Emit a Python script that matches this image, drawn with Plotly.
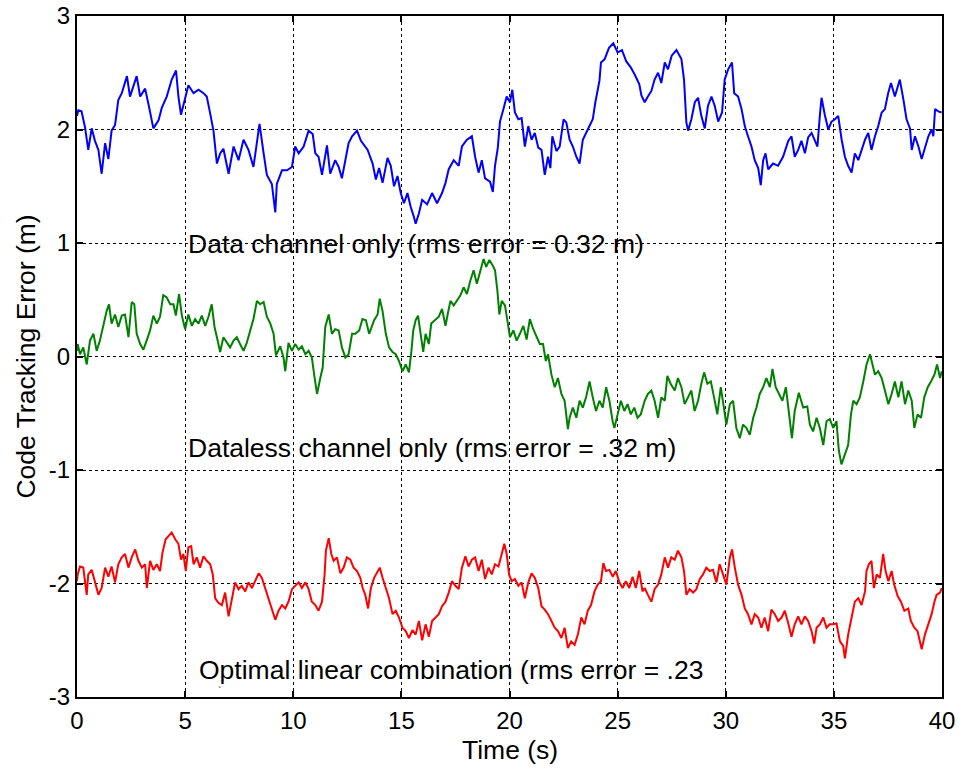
import plotly.graph_objects as go

# ---------------- data ----------------
blue_t = [0.0, 0.06, 0.21, 0.37, 0.52, 0.68, 0.83, 0.99, 1.14, 1.30, 1.45, 1.60, 1.76, 1.91, 2.07, 2.31, 2.45, 2.61, 2.76, 2.92,
          3.15, 3.33, 3.53, 3.77, 3.92, 4.15, 4.38, 4.58, 4.69, 4.81, 5.00, 5.15, 5.39, 5.62, 5.85, 6.00, 6.16, 6.31, 6.47, 6.62,
          6.77, 7.01, 7.24, 7.47, 7.70, 7.93, 8.16, 8.32, 8.44, 8.63, 8.78, 9.01, 9.17, 9.24, 9.48, 9.71, 9.94, 10.09, 10.25, 10.48,
          10.71, 10.90, 11.02, 11.17, 11.33, 11.56, 11.71, 11.94, 12.10, 12.25, 12.41, 12.56, 12.72, 12.95, 13.13, 13.44, 13.67, 13.82, 13.97, 14.13,
          14.36, 14.51, 14.66, 14.82, 14.97, 15.12, 15.28, 15.43, 15.58, 15.66, 15.81, 15.96, 16.19, 16.42, 16.65, 16.88, 17.04, 17.19, 17.42, 17.65,
          17.80, 18.03, 18.26, 18.41, 18.57, 18.72, 18.87, 19.10, 19.23, 19.33, 19.46, 19.56, 19.72, 19.87, 20.02, 20.13, 20.25, 20.41, 20.56, 20.71,
          20.87, 21.02, 21.17, 21.33, 21.48, 21.63, 21.78, 21.89, 21.98, 22.17, 22.32, 22.50, 22.63, 22.78, 22.93, 23.09, 23.24, 23.39, 23.62, 23.85,
          23.97, 24.08, 24.16, 24.23, 24.40, 24.60, 24.80, 25.00, 25.20, 25.40, 25.60, 25.80, 26.00, 26.10, 26.25, 26.40, 26.56, 26.71, 26.87, 27.02,
          27.18, 27.33, 27.50, 27.72, 27.95, 28.07, 28.18, 28.26, 28.41, 28.57, 28.72, 28.87, 29.03, 29.18, 29.34, 29.49, 29.65, 29.83, 29.95, 30.11,
          30.29, 30.39, 30.57, 30.73, 30.88, 31.03, 31.19, 31.34, 31.50, 31.62, 31.73, 31.84, 31.96, 32.19, 32.42, 32.65, 32.89, 33.04, 33.19, 33.35,
          33.50, 33.66, 33.81, 33.97, 34.12, 34.24, 34.35, 34.43, 34.58, 34.74, 34.89, 35.05, 35.20, 35.36, 35.51, 35.66, 35.82, 35.97, 36.13, 36.28,
          36.44, 36.59, 36.74, 36.90, 37.05, 37.21, 37.36, 37.51, 37.64, 37.82, 37.98, 38.05, 38.21, 38.36, 38.52, 38.60, 38.75, 38.91, 39.06, 39.22,
          39.37, 39.52, 39.60, 39.68, 39.83, 39.98]
blue_y = [2.12, 2.17, 2.16, 2.02, 1.82, 2.01, 1.90, 1.82, 1.61, 1.88, 1.74, 1.99, 2.04, 2.26, 2.32, 2.47, 2.29, 2.38, 2.47, 2.29,
          2.36, 2.20, 2.01, 2.08, 2.19, 2.29, 2.44, 2.52, 2.29, 2.13, 2.27, 2.39, 2.32, 2.35, 2.32, 2.29, 2.14, 1.99, 1.70, 1.79,
          1.83, 1.61, 1.85, 1.73, 1.91, 1.82, 1.67, 1.88, 2.05, 1.79, 1.60, 1.52, 1.27, 1.52, 1.64, 1.64, 1.67, 1.85, 1.79, 1.85,
          1.99, 1.96, 1.79, 1.76, 1.60, 1.86, 1.61, 1.73, 1.67, 1.57, 1.73, 1.88, 1.94, 1.99, 1.90, 1.82, 1.70, 1.56, 1.66, 1.53,
          1.75, 1.68, 1.50, 1.59, 1.44, 1.35, 1.44, 1.32, 1.23, 1.17, 1.26, 1.38, 1.34, 1.44, 1.35, 1.44, 1.53, 1.65, 1.73, 1.68,
          1.85, 1.91, 1.94, 1.76, 1.62, 1.73, 1.57, 1.54, 1.45, 1.68, 1.84, 2.07, 2.18, 2.29, 2.24, 2.35, 2.15, 2.09, 2.10, 1.85,
          2.03, 1.91, 1.97, 1.84, 1.82, 1.60, 1.76, 1.66, 1.94, 1.81, 1.85, 2.09, 2.06, 1.91, 1.85, 1.76, 1.70, 1.91, 2.00, 2.09,
          2.24, 2.35, 2.43, 2.59, 2.62, 2.72, 2.76, 2.68, 2.70, 2.60, 2.55, 2.48, 2.40, 2.30, 2.24, 2.29, 2.34, 2.44, 2.50, 2.41,
          2.59, 2.53, 2.65, 2.70, 2.62, 2.44, 2.06, 1.99, 2.09, 2.24, 2.28, 2.12, 2.01, 2.21, 2.29, 2.21, 2.07, 2.15, 2.44, 2.53,
          2.59, 2.32, 2.29, 2.18, 2.03, 1.94, 1.85, 1.73, 1.66, 1.51, 1.73, 1.79, 1.65, 1.70, 1.68, 1.76, 1.90, 1.94, 1.76, 1.82,
          1.90, 1.79, 1.93, 1.97, 1.91, 1.85, 2.12, 2.28, 2.13, 2.00, 2.07, 2.09, 2.12, 1.91, 1.76, 1.68, 1.62, 1.79, 1.73, 1.82,
          1.91, 1.97, 1.82, 1.94, 2.03, 2.15, 2.18, 2.32, 2.41, 2.29, 2.41, 2.44, 2.27, 2.09, 2.01, 1.82, 1.94, 1.85, 1.74, 1.85,
          1.94, 2.00, 1.94, 2.18, 2.16, 2.15]

green_t = [0.0, 0.03, 0.14, 0.29, 0.45, 0.60, 0.76, 0.91, 1.06, 1.22, 1.37, 1.48, 1.60, 1.76, 1.91, 2.07, 2.22, 2.38, 2.53, 2.65,
           2.76, 2.92, 3.07, 3.22, 3.38, 3.53, 3.69, 3.84, 3.99, 4.15, 4.31, 4.46, 4.57, 4.72, 4.85, 5.00, 5.15, 5.31, 5.46, 5.62,
           5.77, 5.93, 6.08, 6.23, 6.36, 6.47, 6.62, 6.77, 6.93, 7.08, 7.24, 7.39, 7.54, 7.70, 7.85, 8.01, 8.16, 8.32, 8.47, 8.63,
           8.78, 8.94, 9.09, 9.20, 9.40, 9.55, 9.63, 9.78, 9.94, 10.09, 10.25, 10.40, 10.56, 10.71, 10.86, 10.99, 11.10, 11.25, 11.36, 11.48,
           11.64, 11.79, 11.94, 12.10, 12.25, 12.41, 12.56, 12.72, 12.87, 13.05, 13.20, 13.36, 13.51, 13.74, 13.90, 14.00, 14.13, 14.28, 14.43, 14.59,
           14.74, 14.89, 15.05, 15.20, 15.35, 15.46, 15.55, 15.66, 15.77, 15.89, 16.01, 16.12, 16.27, 16.38, 16.58, 16.73, 16.88, 17.04, 17.14, 17.27,
           17.42, 17.57, 17.73, 17.88, 18.03, 18.19, 18.34, 18.49, 18.65, 18.80, 18.92, 19.07, 19.23, 19.33, 19.44, 19.53, 19.64, 19.79, 19.90, 20.02,
           20.18, 20.33, 20.48, 20.64, 20.79, 20.94, 21.10, 21.25, 21.40, 21.55, 21.68, 21.78, 21.94, 22.09, 22.24, 22.40, 22.55, 22.70, 22.78, 22.93,
           23.09, 23.24, 23.39, 23.54, 23.70, 23.85, 24.00, 24.16, 24.31, 24.47, 24.62, 24.77, 24.85, 25.00, 25.15, 25.31, 25.46, 25.61, 25.77, 25.92,
           26.07, 26.25, 26.40, 26.56, 26.71, 26.87, 27.02, 27.18, 27.30, 27.45, 27.64, 27.79, 27.95, 28.10, 28.26, 28.41, 28.56, 28.72, 28.87, 29.00,
           29.15, 29.31, 29.46, 29.61, 29.77, 29.92, 30.03, 30.19, 30.34, 30.49, 30.65, 30.80, 30.96, 31.11, 31.27, 31.42, 31.57, 31.73, 31.88, 32.04,
           32.16, 32.31, 32.47, 32.62, 32.78, 32.93, 33.06, 33.19, 33.38, 33.58, 33.77, 33.89, 34.04, 34.20, 34.35, 34.51, 34.66, 34.81, 34.97, 35.12,
           35.23, 35.35, 35.51, 35.66, 35.79, 35.90, 36.05, 36.20, 36.36, 36.51, 36.67, 36.74, 36.90, 37.05, 37.21, 37.36, 37.52, 37.67, 37.82, 37.98,
           38.13, 38.29, 38.44, 38.60, 38.72, 38.87, 39.03, 39.18, 39.34, 39.49, 39.65, 39.77, 39.91, 39.99]
green_y = [0.05, 0.11, 0.02, 0.08, -0.07, 0.14, 0.20, 0.05, 0.14, 0.27, 0.40, 0.46, 0.29, 0.37, 0.26, 0.36, 0.37, 0.17, 0.48, 0.46,
           0.20, 0.11, 0.06, 0.14, 0.23, 0.36, 0.29, 0.35, 0.54, 0.52, 0.46, 0.46, 0.36, 0.55, 0.36, 0.24, 0.37, 0.27, 0.33, 0.29,
           0.36, 0.27, 0.35, 0.46, 0.26, 0.17, 0.04, 0.17, 0.12, 0.08, 0.14, 0.17, 0.11, 0.05, 0.12, 0.24, 0.33, 0.49, 0.46, 0.48,
           0.35, 0.29, 0.20, 0.01, 0.09, -0.01, -0.13, 0.12, 0.05, 0.11, 0.06, 0.09, 0.02, 0.05, -0.01, -0.19, -0.33, -0.19, -0.10, 0.26,
           0.37, 0.20, 0.24, 0.23, 0.08, -0.01, 0.02, 0.20, 0.20, 0.23, 0.33, 0.32, 0.20, 0.32, 0.37, 0.51, 0.40, 0.20, 0.08, 0.04,
           0.02, -0.04, -0.13, -0.07, -0.14, 0.04, 0.23, 0.32, 0.36, 0.20, 0.04, 0.20, 0.11, 0.29, 0.32, 0.35, 0.42, 0.27, 0.37, 0.49,
           0.45, 0.49, 0.54, 0.61, 0.55, 0.67, 0.76, 0.64, 0.76, 0.86, 0.79, 0.85, 0.80, 0.76, 0.58, 0.37, 0.49, 0.45, 0.32, 0.17,
           0.23, 0.14, 0.20, 0.27, 0.15, 0.33, 0.24, 0.18, 0.11, 0.11, -0.04, 0.02, -0.16, -0.27, -0.19, -0.33, -0.39, -0.64, -0.54, -0.45,
           -0.54, -0.39, -0.45, -0.36, -0.22, -0.36, -0.48, -0.39, -0.45, -0.27, -0.39, -0.57, -0.63, -0.51, -0.39, -0.48, -0.42, -0.51, -0.45, -0.54,
           -0.51, -0.39, -0.33, -0.30, -0.39, -0.54, -0.36, -0.39, -0.17, -0.24, -0.30, -0.19, -0.27, -0.42, -0.36, -0.30, -0.48, -0.39, -0.24, -0.14,
           -0.24, -0.22, -0.36, -0.51, -0.27, -0.45, -0.60, -0.42, -0.39, -0.63, -0.72, -0.60, -0.63, -0.69, -0.54, -0.45, -0.33, -0.27, -0.19, -0.27,
           -0.11, -0.27, -0.33, -0.39, -0.27, -0.51, -0.72, -0.48, -0.32, -0.45, -0.44, -0.60, -0.66, -0.54, -0.63, -0.78, -0.57, -0.55, -0.63, -0.57,
           -0.83, -0.95, -0.86, -0.78, -0.51, -0.39, -0.42, -0.36, -0.22, -0.07, 0.02, -0.04, -0.16, -0.13, -0.19, -0.30, -0.42, -0.33, -0.22, -0.36,
           -0.22, -0.42, -0.30, -0.39, -0.63, -0.51, -0.54, -0.36, -0.27, -0.22, -0.16, -0.07, -0.19, -0.13]

red_t = [0.0, 0.03, 0.14, 0.29, 0.45, 0.52, 0.68, 0.83, 0.99, 1.14, 1.30, 1.45, 1.60, 1.76, 1.91, 2.07, 2.22, 2.38, 2.53, 2.69,
         2.84, 3.00, 3.15, 3.23, 3.38, 3.53, 3.69, 3.84, 3.95, 4.10, 4.26, 4.38, 4.54, 4.69, 4.81, 4.92, 5.03, 5.15, 5.28, 5.39,
         5.54, 5.69, 5.85, 6.00, 6.16, 6.28, 6.39, 6.54, 6.70, 6.85, 7.01, 7.16, 7.31, 7.47, 7.62, 7.78, 7.93, 8.09, 8.24, 8.40,
         8.55, 8.70, 8.86, 9.01, 9.17, 9.32, 9.48, 9.63, 9.78, 9.94, 10.09, 10.25, 10.40, 10.56, 10.71, 10.86, 11.02, 11.17, 11.33, 11.45,
         11.51, 11.64, 11.76, 11.87, 12.02, 12.18, 12.33, 12.48, 12.64, 12.79, 12.95, 13.10, 13.21, 13.33, 13.46, 13.59, 13.74, 13.90, 14.00, 14.13,
         14.28, 14.43, 14.59, 14.74, 14.89, 15.05, 15.20, 15.35, 15.51, 15.66, 15.81, 15.96, 16.12, 16.27, 16.42, 16.58, 16.73, 16.88, 17.04, 17.19,
         17.34, 17.50, 17.65, 17.80, 17.96, 18.11, 18.26, 18.41, 18.57, 18.72, 18.87, 19.03, 19.18, 19.33, 19.49, 19.64, 19.76, 19.87, 19.98, 20.10,
         20.25, 20.41, 20.56, 20.71, 20.87, 21.02, 21.17, 21.33, 21.48, 21.63, 21.78, 21.94, 22.09, 22.24, 22.40, 22.55, 22.70, 22.85, 23.01, 23.16,
         23.32, 23.47, 23.62, 23.77, 23.93, 24.08, 24.23, 24.34, 24.46, 24.62, 24.77, 24.92, 25.08, 25.23, 25.38, 25.54, 25.69, 25.84, 26.00, 26.15,
         26.25, 26.40, 26.56, 26.71, 26.87, 27.02, 27.18, 27.33, 27.48, 27.64, 27.79, 27.95, 28.07, 28.18, 28.33, 28.49, 28.64, 28.80, 28.95, 29.10,
         29.26, 29.41, 29.57, 29.72, 29.88, 30.03, 30.19, 30.29, 30.42, 30.57, 30.73, 30.88, 31.03, 31.19, 31.34, 31.50, 31.65, 31.80, 31.96, 32.11,
         32.27, 32.42, 32.58, 32.73, 32.89, 33.04, 33.19, 33.35, 33.50, 33.66, 33.81, 33.97, 34.09, 34.20, 34.35, 34.51, 34.66, 34.81, 34.97, 35.12,
         35.28, 35.43, 35.51, 35.66, 35.82, 35.97, 36.13, 36.28, 36.44, 36.51, 36.62, 36.74, 36.85, 36.98, 37.13, 37.28, 37.39, 37.52, 37.67, 37.79,
         37.95, 38.10, 38.26, 38.44, 38.56, 38.72, 38.87, 39.06, 39.21, 39.37, 39.52, 39.65, 39.75, 39.91, 39.99]
red_y = [-1.98, -1.92, -1.85, -1.86, -2.10, -1.92, -1.88, -1.98, -2.10, -2.04, -1.86, -1.94, -1.85, -1.99, -1.83, -1.77, -1.74, -1.86, -1.77, -1.70,
         -1.80, -1.86, -1.83, -2.04, -1.80, -1.88, -1.83, -1.89, -1.73, -1.61, -1.58, -1.55, -1.61, -1.65, -1.79, -1.74, -1.89, -1.68, -1.67, -1.83,
         -1.77, -1.86, -1.76, -1.80, -1.83, -1.92, -2.13, -2.17, -2.19, -2.08, -2.29, -2.13, -1.99, -2.05, -2.02, -2.07, -1.99, -2.04, -1.98, -1.91,
         -1.95, -2.04, -2.14, -2.22, -2.32, -2.24, -2.19, -2.22, -2.16, -2.05, -2.02, -1.99, -2.04, -1.99, -2.05, -2.16, -2.19, -2.24, -2.16, -1.92,
         -1.71, -1.60, -1.74, -1.80, -1.77, -1.91, -1.86, -1.77, -1.79, -1.86, -1.89, -1.95, -2.04, -2.10, -2.22, -2.04, -1.95, -1.89, -1.86, -1.95,
         -2.04, -2.13, -2.27, -2.24, -2.30, -2.39, -2.42, -2.48, -2.41, -2.45, -2.33, -2.50, -2.36, -2.47, -2.33, -2.30, -2.27, -2.20, -2.16, -2.08,
         -1.98, -2.02, -2.05, -1.86, -1.76, -1.85, -1.79, -1.77, -1.89, -1.79, -1.96, -1.86, -1.92, -1.83, -1.85, -1.74, -1.65, -1.74, -1.92, -1.98,
         -1.96, -2.02, -1.99, -2.13, -1.99, -1.91, -1.95, -2.04, -2.20, -2.23, -2.27, -2.33, -2.39, -2.42, -2.48, -2.39, -2.57, -2.51, -2.54, -2.45,
         -2.30, -2.36, -2.24, -2.19, -2.07, -2.01, -1.98, -1.82, -1.89, -1.88, -1.94, -1.89, -1.99, -2.04, -1.98, -2.04, -1.94, -2.04, -1.89, -2.07,
         -2.04, -2.10, -2.16, -2.05, -2.01, -1.92, -1.77, -1.86, -1.77, -1.79, -1.71, -1.77, -1.89, -2.10, -2.05, -2.08, -2.05, -1.96, -1.92, -1.86,
         -1.89, -1.88, -1.99, -1.83, -1.92, -2.01, -1.77, -1.70, -1.86, -2.01, -2.10, -2.22, -2.27, -2.36, -2.27, -2.30, -2.39, -2.30, -2.42, -2.23,
         -2.27, -2.33, -2.30, -2.24, -2.35, -2.47, -2.36, -2.29, -2.36, -2.29, -2.33, -2.42, -2.53, -2.39, -2.36, -2.30, -2.39, -2.36, -2.36, -2.35,
         -2.51, -2.55, -2.66, -2.45, -2.30, -2.16, -2.13, -2.19, -2.07, -1.89, -1.83, -1.80, -2.04, -1.92, -1.95, -1.74, -1.89, -1.98, -1.89, -2.01,
         -2.11, -2.16, -2.24, -2.22, -2.33, -2.39, -2.42, -2.58, -2.45, -2.36, -2.27, -2.16, -2.10, -2.08, -2.04]

x_ticks = [0, 5, 10, 15, 20, 25, 30, 35, 40]
x_tick_labels = ["0", "5", "10", "15", "20", "25", "30", "35", "40"]
y_ticks = [-3, -2, -1, 0, 1, 2, 3]
y_tick_labels = ["-3", "-2", "-1", "0", "1", "2", "3"]

label_data = "Data channel only (rms error = 0.32 m)"
label_dataless = "Dataless channel only (rms error = .32 m)"
label_optimal = "Optimal linear combination (rms error = .23"
x_title = "Time (s)"
y_title = "Code Tracking Error (m)"

# ---------------- figure ----------------
FONT = "Arial, Liberation Sans, Helvetica, sans-serif"

fig = go.Figure()
fig.add_trace(go.Scatter(x=blue_t, y=blue_y, mode="lines",
                         line=dict(color="#0000ff", width=2), showlegend=False))
fig.add_trace(go.Scatter(x=green_t, y=green_y, mode="lines",
                         line=dict(color="#008000", width=2), showlegend=False))
fig.add_trace(go.Scatter(x=red_t, y=red_y, mode="lines",
                         line=dict(color="#ff0000", width=2), showlegend=False))

axis_common = dict(
    showgrid=True, gridcolor="black", griddash="dot", gridwidth=1,
    showline=True, linecolor="black", linewidth=2, mirror="ticks",
    ticks="inside", ticklen=6, tickcolor="black", tickwidth=1.5,
    zeroline=False, automargin=False,
    tickfont=dict(family=FONT, size=24, color="black"),
)

fig.update_xaxes(range=[0, 40], tickvals=x_ticks, ticktext=x_tick_labels,
                 ticklabelstandoff=1, **axis_common)
fig.update_yaxes(range=[-3, 3], tickvals=y_ticks, ticktext=y_tick_labels,
                 ticklabelstandoff=0, **axis_common)

ann_font = dict(family=FONT, size=26.5, color="black")
annotations = [
    dict(x=5.05, y=0.99, xref="x", yref="y", text=label_data, showarrow=False,
         xanchor="left", yanchor="middle", font=ann_font),
    dict(x=5.05, y=-0.81, xref="x", yref="y", text=label_dataless, showarrow=False,
         xanchor="left", yanchor="middle", font=ann_font),
    dict(x=5.55, y=-2.76, xref="x", yref="y", text=label_optimal, showarrow=False,
         xanchor="left", yanchor="middle", font=ann_font),
    dict(x=6.6, y=-2.95, xref="x", yref="y", text="`", showarrow=False,
         xanchor="center", yanchor="middle", font=dict(family=FONT, size=10, color="black")),
    dict(x=0.5, y=-0.078, xref="paper", yref="paper", text=x_title, showarrow=False,
         xanchor="center", yanchor="middle", font=ann_font),
    dict(x=-0.060, y=0.5, xref="paper", yref="paper", text=y_title, showarrow=False,
         xanchor="center", yanchor="middle", textangle=-90, font=ann_font),
]

fig.update_layout(
    width=960, height=772,
    margin=dict(l=77, r=18, t=16, b=75),
    paper_bgcolor="white", plot_bgcolor="white",
    annotations=annotations,
    showlegend=False,
)

fig.write_html("out.html")
